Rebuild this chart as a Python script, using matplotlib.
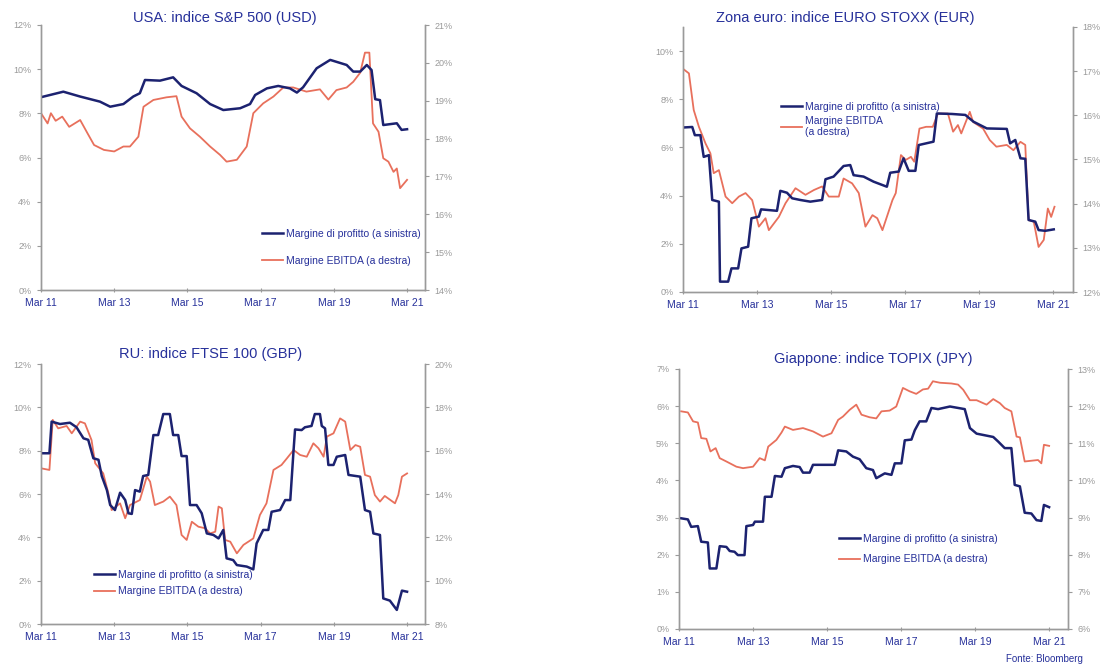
import numpy as np
import matplotlib
matplotlib.use('Agg')
import matplotlib.pyplot as plt
from matplotlib.ticker import FuncFormatter

plt.rcParams['font.family'] = ['Liberation Sans', 'DejaVu Sans']

NAVY = '#1c2270'
RED = '#e8705c'
GRAY = '#9a9a9a'
TXT = '#26309a'

tick_pos = [0, 2, 4, 6, 8, 10]
tick_lab = ['Mar 11', 'Mar 13', 'Mar 15', 'Mar 17', 'Mar 19', 'Mar 21']

# USA: S&P 500  (x = years since Mar 2011)
us_prof_x = [0.0, 0.61, 1.07, 1.61, 1.89, 2.25, 2.52, 2.70, 2.84, 3.25, 3.61, 3.84, 4.25, 4.62, 4.98,
             5.44, 5.71, 5.85, 6.17, 6.48, 6.80, 6.99, 7.16, 7.53, 7.90, 8.35, 8.53, 8.72, 8.90, 9.03,
             9.13, 9.26, 9.35, 9.72, 9.85, 10.0]
us_prof = [8.73, 8.98, 8.76, 8.53, 8.30, 8.42, 8.76, 8.91, 9.51, 9.48, 9.63, 9.24, 8.91, 8.42, 8.15,
           8.23, 8.42, 8.83, 9.13, 9.24, 9.13, 8.94, 9.18, 10.04, 10.42, 10.19, 9.89, 9.89, 10.19, 9.96,
           8.64, 8.60, 7.47, 7.55, 7.25, 7.28]
us_ebit_x = [0.0, 0.18, 0.27, 0.40, 0.58, 0.77, 1.07, 1.27, 1.45, 1.72, 2.0, 2.25, 2.43, 2.66, 2.80,
             3.07, 3.43, 3.70, 3.84, 4.07, 4.34, 4.62, 4.89, 5.07, 5.35, 5.62, 5.80, 6.07, 6.35, 6.62,
             6.89, 7.25, 7.62, 7.85, 8.07, 8.35, 8.53, 8.72, 8.85, 8.97, 9.07, 9.22, 9.35, 9.49, 9.63,
             9.72, 9.81, 10.0]
us_ebit = [18.67, 18.40, 18.67, 18.47, 18.58, 18.31, 18.49, 18.14, 17.83, 17.70, 17.66, 17.79, 17.79,
           18.05, 18.84, 19.02, 19.09, 19.12, 18.58, 18.27, 18.05, 17.79, 17.57, 17.39, 17.44, 17.79,
           18.67, 18.93, 19.11, 19.35, 19.35, 19.24, 19.30, 19.03, 19.28, 19.35, 19.50, 19.74, 20.27,
           20.27, 18.40, 18.18, 17.48, 17.39, 17.12, 17.21, 16.69, 16.91]

# Zona euro: EURO STOXX
eu_prof_x = [0.02, 0.25, 0.32, 0.47, 0.56, 0.70, 0.79, 0.97, 1.0, 1.22, 1.31, 1.49, 1.58, 1.76, 1.85,
             2.05, 2.11, 2.54, 2.63, 2.81, 2.95, 3.17, 3.44, 3.76, 3.85, 4.07, 4.34, 4.52, 4.61, 4.88,
             5.15, 5.51, 5.60, 5.83, 5.96, 6.10, 6.28, 6.37, 6.77, 6.86, 7.27, 7.63, 7.85, 8.21, 8.75,
             8.84, 8.98, 9.12, 9.25, 9.34, 9.52, 9.61, 9.79, 10.02]
eu_prof = [6.83, 6.85, 6.51, 6.51, 5.61, 5.68, 3.82, 3.75, 0.43, 0.43, 0.98, 0.98, 1.81, 1.88, 3.06,
           3.13, 3.43, 3.37, 4.20, 4.12, 3.89, 3.82, 3.75, 3.82, 4.68, 4.79, 5.23, 5.27, 4.85, 4.79,
           4.58, 4.37, 4.95, 5.00, 5.55, 5.03, 5.03, 6.10, 6.24, 7.41, 7.39, 7.35, 7.07, 6.79, 6.77,
           6.17, 6.31, 5.55, 5.53, 2.99, 2.92, 2.57, 2.54, 2.60]
eu_ebit_x = [0.02, 0.16, 0.29, 0.43, 0.61, 0.74, 0.83, 0.97, 1.15, 1.33, 1.51, 1.69, 1.87, 2.05, 2.23,
             2.32, 2.59, 2.77, 3.04, 3.31, 3.54, 3.76, 3.94, 4.21, 4.34, 4.57, 4.75, 4.93, 5.12, 5.25,
             5.39, 5.66, 5.75, 5.89, 6.02, 6.16, 6.25, 6.39, 6.57, 6.75, 6.89, 7.16, 7.30, 7.43, 7.52,
             7.75, 7.84, 8.11, 8.29, 8.47, 8.75, 8.93, 9.12, 9.25, 9.34, 9.48, 9.61, 9.75, 9.86, 9.95,
             10.04]
eu_ebit = [17.04, 16.95, 16.12, 15.74, 15.36, 15.14, 14.69, 14.76, 14.16, 14.01, 14.16, 14.24, 14.08,
           13.48, 13.67, 13.40, 13.70, 14.01, 14.35, 14.20, 14.31, 14.39, 14.16, 14.16, 14.57, 14.46,
           14.24, 13.48, 13.74, 13.67, 13.40, 14.08, 14.24, 15.10, 14.99, 15.06, 14.95, 15.70, 15.74,
           15.74, 16.04, 16.04, 15.63, 15.78, 15.59, 16.08, 15.85, 15.70, 15.44, 15.29, 15.33, 15.21,
           15.40, 15.33, 13.63, 13.59, 13.02, 13.18, 13.89, 13.70, 13.93]

# RU: FTSE 100
uk_prof_x = [0.02, 0.23, 0.29, 0.52, 0.79, 0.97, 1.16, 1.29, 1.43, 1.57, 1.66, 1.80, 1.89, 2.02, 2.16,
             2.30, 2.39, 2.48, 2.57, 2.70, 2.79, 2.93, 3.07, 3.20, 3.34, 3.52, 3.61, 3.75, 3.84, 3.98,
             4.07, 4.25, 4.39, 4.53, 4.71, 4.85, 4.98, 5.07, 5.25, 5.35, 5.62, 5.80, 5.89, 6.07, 6.21,
             6.30, 6.53, 6.67, 6.81, 6.90, 6.94, 7.12, 7.21, 7.39, 7.48, 7.62, 7.67, 7.76, 7.85, 7.99,
             8.08, 8.31, 8.40, 8.72, 8.85, 8.99, 9.08, 9.26, 9.35, 9.53, 9.72, 9.86, 10.0]
uk_prof = [7.88, 7.88, 9.34, 9.23, 9.29, 9.08, 8.57, 8.50, 7.65, 7.58, 6.83, 6.18, 5.49, 5.26, 6.06,
           5.72, 5.11, 5.08, 6.18, 6.11, 6.83, 6.88, 8.72, 8.72, 9.69, 9.69, 8.72, 8.72, 7.75, 7.75,
           5.49, 5.49, 5.11, 4.18, 4.11, 3.95, 4.34, 3.03, 2.95, 2.72, 2.65, 2.52, 3.72, 4.34, 4.34,
           5.18, 5.26, 5.72, 5.72, 8.03, 8.98, 8.95, 9.08, 9.14, 9.69, 9.69, 9.14, 9.03, 7.34, 7.34,
           7.72, 7.80, 6.88, 6.80, 5.26, 5.18, 4.18, 4.11, 1.18, 1.08, 0.65, 1.54, 1.49]
uk_ebit_x = [0.02, 0.23, 0.32, 0.47, 0.70, 0.84, 1.07, 1.20, 1.38, 1.48, 1.70, 1.84, 1.93, 2.16, 2.30,
             2.43, 2.70, 2.89, 2.98, 3.11, 3.34, 3.52, 3.70, 3.84, 3.98, 4.12, 4.30, 4.48, 4.62, 4.76,
             4.85, 4.94, 5.03, 5.17, 5.35, 5.53, 5.80, 5.98, 6.16, 6.35, 6.57, 6.72, 6.90, 7.08, 7.26,
             7.44, 7.58, 7.72, 7.81, 7.99, 8.17, 8.31, 8.45, 8.59, 8.72, 8.85, 8.99, 9.12, 9.26, 9.39,
             9.67, 9.76, 9.86, 10.0]
uk_ebit = [15.18, 15.11, 17.42, 17.03, 17.14, 16.80, 17.34, 17.26, 16.49, 15.42, 14.95, 14.03, 13.26,
           13.57, 12.88, 13.49, 13.72, 14.80, 14.57, 13.49, 13.65, 13.88, 13.49, 12.11, 11.88, 12.72,
           12.49, 12.42, 12.18, 12.26, 13.42, 13.34, 11.88, 11.80, 11.26, 11.65, 11.95, 13.03, 13.57,
           15.11, 15.34, 15.65, 16.03, 15.80, 15.72, 16.34, 16.11, 15.72, 16.65, 16.80, 17.49, 17.34,
           16.03, 16.26, 16.18, 14.88, 14.80, 13.95, 13.65, 13.91, 13.57, 13.95, 14.80, 14.95]

# Giappone: TOPIX
jp_prof_x = [0.06, 0.24, 0.33, 0.51, 0.60, 0.78, 0.83, 1.01, 1.10, 1.28, 1.37, 1.50, 1.59, 1.77, 1.82,
             2.0, 2.05, 2.27, 2.32, 2.50, 2.59, 2.77, 2.86, 3.08, 3.26, 3.35, 3.53, 3.62, 4.21, 4.30,
             4.52, 4.70, 4.88, 5.06, 5.24, 5.33, 5.56, 5.74, 5.83, 6.01, 6.10, 6.28, 6.37, 6.50, 6.68,
             6.82, 7.0, 7.32, 7.72, 7.86, 8.04, 8.49, 8.62, 8.80, 8.98, 9.07, 9.21, 9.34, 9.52, 9.66,
             9.79, 9.86, 10.0]
jp_prof = [2.98, 2.95, 2.75, 2.77, 2.35, 2.33, 1.63, 1.63, 2.23, 2.21, 2.10, 2.08, 1.99, 1.99, 2.77,
           2.80, 2.89, 2.89, 3.56, 3.56, 4.12, 4.10, 4.33, 4.39, 4.36, 4.21, 4.21, 4.42, 4.42, 4.81,
           4.78, 4.64, 4.57, 4.33, 4.28, 4.06, 4.19, 4.15, 4.46, 4.46, 5.08, 5.10, 5.35, 5.59, 5.59,
           5.95, 5.92, 5.99, 5.92, 5.41, 5.26, 5.17, 5.05, 4.87, 4.87, 3.88, 3.84, 3.13, 3.11, 2.93,
           2.91, 3.34, 3.28]
jp_ebit_x = [0.06, 0.24, 0.38, 0.51, 0.60, 0.74, 0.85, 0.99, 1.10, 1.28, 1.55, 1.73, 2.0, 2.18, 2.32,
             2.41, 2.63, 2.77, 2.86, 3.08, 3.35, 3.62, 3.89, 4.12, 4.30, 4.43, 4.61, 4.79, 4.93, 5.15,
             5.33, 5.47, 5.69, 5.87, 6.05, 6.23, 6.41, 6.59, 6.73, 6.86, 7.05, 7.36, 7.54, 7.68, 7.86,
             8.04, 8.31, 8.49, 8.67, 8.80, 8.98, 9.12, 9.21, 9.34, 9.61, 9.70, 9.79, 9.86, 10.0]
jp_ebit = [11.86, 11.83, 11.59, 11.56, 11.14, 11.12, 10.78, 10.87, 10.60, 10.51, 10.37, 10.33, 10.37,
           10.60, 10.54, 10.91, 11.09, 11.29, 11.45, 11.36, 11.41, 11.32, 11.18, 11.27, 11.63, 11.72,
           11.90, 12.04, 11.77, 11.70, 11.67, 11.86, 11.88, 11.99, 12.49, 12.40, 12.33, 12.45, 12.47,
           12.67, 12.63, 12.61, 12.58, 12.44, 12.16, 12.16, 12.04, 12.19, 12.08, 11.95, 11.86, 11.18,
           11.16, 10.51, 10.54, 10.55, 10.46, 10.96, 10.93]

lab_prof = 'Margine di profitto (a sinistra)'
lab_ebit = 'Margine EBITDA (a destra)'

panels = [
    dict(title='USA: indice S&P 500 (USD)', rect=(41, 25, 425, 290), xmax=10.49,
         yl=(0, 12), ylt=range(0, 13, 2), yr=(14, 21), yrt=range(14, 22),
         px=us_prof_x, py=us_prof, ex=us_ebit_x, ey=us_ebit,
         leg=(262, 229), lsp=1.6, elab=lab_ebit, tpos=(225, 18)),
    dict(title='Zona euro: indice EURO STOXX (EUR)', rect=(683, 27, 1073, 292), xmax=10.54,
         yl=(0, 11), ylt=range(0, 11, 2), yr=(12, 18), yrt=range(12, 19),
         px=eu_prof_x, py=eu_prof, ex=eu_ebit_x, ey=eu_ebit,
         leg=(781, 102), lsp=0.35, elab='Margine EBITDA\n(a destra)', tpos=(845, 18)),
    dict(title='RU: indice FTSE 100 (GBP)', rect=(41, 364, 425, 624), xmax=10.49,
         yl=(0, 12), ylt=range(0, 13, 2), yr=(8, 20), yrt=range(8, 21, 2),
         px=uk_prof_x, py=uk_prof, ex=uk_ebit_x, ey=uk_ebit,
         leg=(94, 570), lsp=0.6, elab=lab_ebit, tpos=(211, 354)),
    dict(title='Giappone: indice TOPIX (JPY)', rect=(679, 369, 1068, 629), xmax=10.51,
         yl=(0, 7), ylt=range(0, 8), yr=(6, 13), yrt=range(6, 14),
         px=jp_prof_x, py=jp_prof, ex=jp_ebit_x, ey=jp_ebit,
         leg=(839, 534), lsp=1.0, elab=lab_ebit, tpos=(873, 359)),
]

W, H = 1104, 664
fig = plt.figure(figsize=(W / 100, H / 100), dpi=100)
pct = FuncFormatter(lambda v, p: '%d%%' % v)

for p in panels:
    l, t, r, b = p['rect']
    ax = fig.add_axes([l / W, 1 - b / H, (r - l) / W, (b - t) / H])
    ax2 = ax.twinx()
    for a in (ax, ax2):
        a.spines['top'].set_visible(False)
        for s in ('left', 'right', 'bottom'):
            a.spines[s].set_color(GRAY)
            a.spines[s].set_linewidth(1.0)
        a.tick_params(axis='y', colors=GRAY, labelsize=6.5, length=3, width=0.8, pad=4)
        a.yaxis.set_major_formatter(pct)
    ax.tick_params(axis='x', colors=GRAY, labelcolor=TXT, labelsize=7.5, length=3, width=0.8,
                   direction='inout', pad=4)
    ax.set_xlim(0, p['xmax'])
    ax.set_xticks(tick_pos)
    ax.set_xticklabels(tick_lab)
    ax.set_ylim(*p['yl'])
    ax.set_yticks(list(p['ylt']))
    ax2.set_ylim(*p['yr'])
    ax2.set_yticks(list(p['yrt']))

    # blue series on top of the red one
    ax.set_zorder(ax2.get_zorder() + 1)
    ax.patch.set_visible(False)

    h2, = ax2.plot(p['ex'], p['ey'], color=RED, lw=1.3)
    h1, = ax.plot(p['px'], p['py'], color=NAVY, lw=1.8)

    ax.legend([h1, h2], [lab_prof, p['elab']], loc='upper left',
              bbox_to_anchor=(p['leg'][0] / W, 1 - p['leg'][1] / H), bbox_transform=fig.transFigure,
              frameon=False, fontsize=7.5, labelcolor=TXT, handlelength=2.0, handletextpad=0.3,
              labelspacing=p['lsp'], borderpad=0, borderaxespad=0)

    fig.text(p['tpos'][0] / W, 1 - p['tpos'][1] / H, p['title'], ha='center', va='center',
             fontsize=10.5, color=TXT)

fig.text(1083 / W, 1 - 659 / H, 'Fonte: Bloomberg', ha='right', va='center', fontsize=7, color=TXT)

fig.savefig('out.png', dpi=100)
